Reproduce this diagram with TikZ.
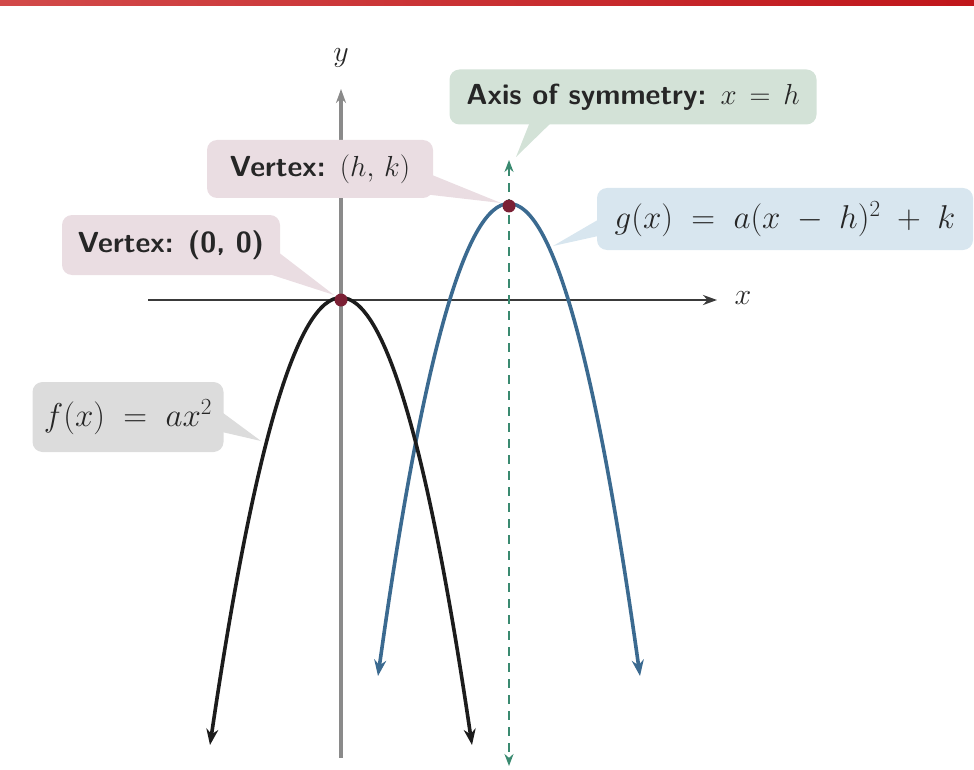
\RequirePackage{fix-cm}
\documentclass[tikz,border=0pt]{standalone}
\usepackage{fontspec}
\usetikzlibrary{arrows.meta,calc}
\definecolor{barL}{HTML}{D24A4A}
\definecolor{barR}{HTML}{C0161B}
\definecolor{axgray}{HTML}{8A8A8A}
\definecolor{axdark}{HTML}{3A3A3A}
\definecolor{curveblue}{HTML}{3B6A90}
\definecolor{curveblack}{HTML}{1C1C1C}
\definecolor{symgreen}{HTML}{3A8A70}
\definecolor{dotred}{HTML}{7B2035}
\definecolor{boxpink}{HTML}{EADDE2}
\definecolor{boxgreen}{HTML}{D3E2D7}
\definecolor{boxblue}{HTML}{D8E6EF}
\definecolor{boxgray}{HTML}{DCDCDC}
\definecolor{txt}{HTML}{262626}
\newcommand{\wsp}{\mskip3mu}
\newcommand{\gsp}{\mskip5mu}
\begin{document}
\begin{tikzpicture}[x=1pt,y=-1pt,
  lbl/.style={rounded corners=10pt, inner sep=0pt, text=txt,
    font=\fontsize{29}{34}\selectfont\sffamily\bfseries},
  mlbl/.style={rounded corners=10pt, inner sep=0pt, text=txt,
    font=\fontsize{33}{38}\selectfont},
  dot/.style={circle, fill=dotred, inner sep=0pt, minimum size=13pt}]
\useasboundingbox (0,0) rectangle (974,770);
% red bar
\shade[left color=barL, right color=barR] (0,0) rectangle (974,6);

% key points
\coordinate (O) at (341,300);
\coordinate (V) at (509,206);

% axes
\node[font=\fontsize{30}{34}\selectfont, text=txt] (ylab) at (341,58) {$y$};
\node[font=\fontsize{30}{34}\selectfont, text=txt] (xlab) at (743,298) {$x$};
\coordinate (ybot) at (341,758);
\coordinate (ytop) at (341,89);
\coordinate (xl) at (148,300);
\coordinate (xr) at (717,300);
\draw[axgray, line width=4pt, {Stealth[length=14pt,width=10pt]}-] (ytop) -- (ybot);
\draw[axdark, line width=2.6pt, -{Stealth[length=14pt,width=10pt]}] (xl) -- (xr);

% axis of symmetry
\coordinate (stop) at (509,160);
\coordinate (sbot) at (509,766);
\draw[symgreen, line width=2.8pt, dash pattern=on 9pt off 7pt,
  {Stealth[length=12pt,width=9pt]}-{Stealth[length=12pt,width=9pt]}] (stop) -- (sbot);

% label boxes
\node[lbl, fill=boxgreen, minimum width=367pt, minimum height=55pt] (axb) at (633,97)
  {Axis of symmetry: \normalfont$x \wsp=\wsp h$};
\node[lbl, fill=boxpink, minimum width=226pt, minimum height=58pt] (vhk) at (320,169)
  {Vertex: \normalfont$(h,\,k)$};
\node[lbl, fill=boxpink, minimum width=218pt, minimum height=60pt] (v00) at (171,245)
  {Vertex: (0, 0)};
\node[mlbl, fill=boxblue, minimum width=376pt, minimum height=62pt] (gb) at (785,219)
  {$g(x) \gsp=\gsp a(x \gsp-\gsp h)^2 \gsp+\gsp k$};
\node[mlbl, fill=boxgray, minimum width=191pt, minimum height=70pt] (fb) at (128,417)
  {$f(x) \gsp=\gsp ax^2$};

% pointer wedges
\coordinate (axtip) at (516,157);
\coordinate (vhktip) at (501,203);
\coordinate (v00tip) at (334,295);
\coordinate (gtip) at (553,246);
\coordinate (ftip) at (261,441);
\fill[boxgreen] ($(axb.south west)+(82,-6)$) -- (axtip) -- ($(axb.south west)+(106,-6)$) -- cycle;
\fill[boxpink] ($(vhk.east)+(-6,4)$) -- (vhktip) -- ($(vhk.south east)+(-26,-6)$) -- cycle;
\fill[boxpink] ($(v00.east)+(-6,4)$) -- (v00tip) -- ($(v00.south east)+(-26,-6)$) -- cycle;
\fill[boxblue] ($(gb.west)+(6,-2)$) -- (gtip) -- ($(gb.west)+(6,16)$) -- cycle;
\fill[boxgray] ($(fb.east)+(-6,-8)$) -- (ftip) -- ($(fb.east)+(-6,14)$) -- cycle;

% parabolas
\coordinate (bL) at (210,745);
\coordinate (bR) at (472,745);
\coordinate (gL) at (378,676);
\coordinate (gR) at (640,676);
\draw[curveblue, line width=3.6pt,
  {Stealth[length=16pt,width=12pt]}-{Stealth[length=16pt,width=12pt]}]
  (gL) .. controls (465.3,49.3) and (552.7,49.3) .. (gR);
\draw[curveblack, line width=3.6pt,
  {Stealth[length=16pt,width=12pt]}-{Stealth[length=16pt,width=12pt]}]
  (bL) .. controls (297.3,151.7) and (384.7,151.7) .. (bR);

% vertices
\node[dot] (d0) at (O) {};
\node[dot] (d1) at (V) {};
\end{tikzpicture}
\end{document}
